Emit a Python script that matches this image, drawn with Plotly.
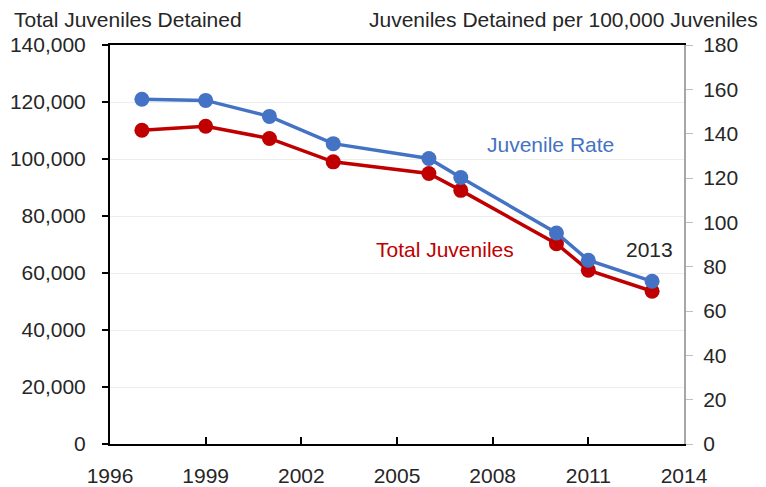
import plotly.graph_objects as go

years = [1997, 1999, 2001, 2003, 2006, 2007, 2010, 2011, 2013]
total_juveniles = [110100, 111500, 107200, 99000, 94900, 89000, 70300, 61000, 53600]
juvenile_rate = [155.5, 155.0, 147.8, 135.5, 128.8, 120.2, 95.2, 82.9, 73.4]

x_ticks = [1996, 1999, 2002, 2005, 2008, 2011, 2014]
left_ticks = [0, 20000, 40000, 60000, 80000, 100000, 120000, 140000]
right_ticks = [0, 20, 40, 60, 80, 100, 120, 140, 160, 180]

FONT = "Liberation Sans"
BLUE = "#4472C4"
RED = "#C00000"
TXT = "#262626"
FS = 21
TFS = 21

fig = go.Figure()
fig.add_trace(go.Scatter(x=years, y=total_juveniles, mode="lines+markers",
                         line=dict(color=RED, width=3.5),
                         marker=dict(color=RED, size=15), yaxis="y",
                         name="Total Juveniles", showlegend=False))
fig.add_trace(go.Scatter(x=years, y=juvenile_rate, mode="lines+markers",
                         line=dict(color=BLUE, width=3.5),
                         marker=dict(color=BLUE, size=15), yaxis="y2",
                         name="Juvenile Rate", showlegend=False))

# page body has an 8px margin, so the figure is 8px smaller and shifted
fig.update_layout(
    width=758, height=479,
    margin=dict(l=102, r=82, t=37, b=43, autoexpand=False),
    paper_bgcolor="white", plot_bgcolor="white",
    font=dict(family=FONT, size=FS, color=TXT),
    xaxis=dict(range=[1996, 2014], tickvals=x_ticks, ticktext=[str(v) for v in x_ticks],
               showline=True, linecolor="black", linewidth=2, mirror=True,
               ticks="inside", ticklen=7, tickwidth=1.5, tickcolor="black",
               showgrid=False, zeroline=False, ticklabelstandoff=12, automargin=False,
               tickfont=dict(size=FS, family=FONT, color=TXT)),
    yaxis=dict(range=[0, 140000], tickvals=left_ticks,
               ticktext=[f"{v:,}" for v in left_ticks],
               showline=True, linecolor="black", linewidth=2,
               ticks="outside", ticklen=6, tickwidth=1.5, tickcolor="black",
               showgrid=True, gridcolor="#EDEDED", gridwidth=1, zeroline=False,
               ticklabelstandoff=12, automargin=False,
               tickfont=dict(size=FS, family=FONT, color=TXT)),
    yaxis2=dict(range=[0, 180], tickvals=right_ticks, ticktext=[str(v) for v in right_ticks],
                overlaying="y", side="right",
                showline=True, linecolor="#A6A6A6", linewidth=2,
                ticks="outside", ticklen=7, tickwidth=1, tickcolor="#BFBFBF",
                showgrid=False, zeroline=False, ticklabelstandoff=6, automargin=False,
                tickfont=dict(size=FS, family=FONT, color=TXT)),
)

fig.add_annotation(text="Total Juveniles Detained", xref="paper", yref="paper",
                   x=-98/574, y=1 + 26/399, xanchor="left", yanchor="middle",
                   showarrow=False, font=dict(size=TFS, family=FONT, color=TXT))
fig.add_annotation(text="Juveniles Detained per 100,000 Juveniles", xref="paper", yref="paper",
                   x=1 + 76/574, y=1 + 26/399, xanchor="right", yanchor="middle",
                   showarrow=False, font=dict(size=TFS, family=FONT, color=TXT))
fig.add_annotation(text="Juvenile Rate", x=2009.82, y=105200, xref="x", yref="y",
                   showarrow=False, font=dict(size=FS, family=FONT, color=BLUE))
fig.add_annotation(text="Total Juveniles", x=2006.5, y=68300, xref="x", yref="y",
                   showarrow=False, font=dict(size=FS, family=FONT, color=RED))
fig.add_annotation(text="2013", x=2012.93, y=68300, xref="x", yref="y",
                   showarrow=False, font=dict(size=FS, family=FONT, color=TXT))

fig.write_html("out.html")
